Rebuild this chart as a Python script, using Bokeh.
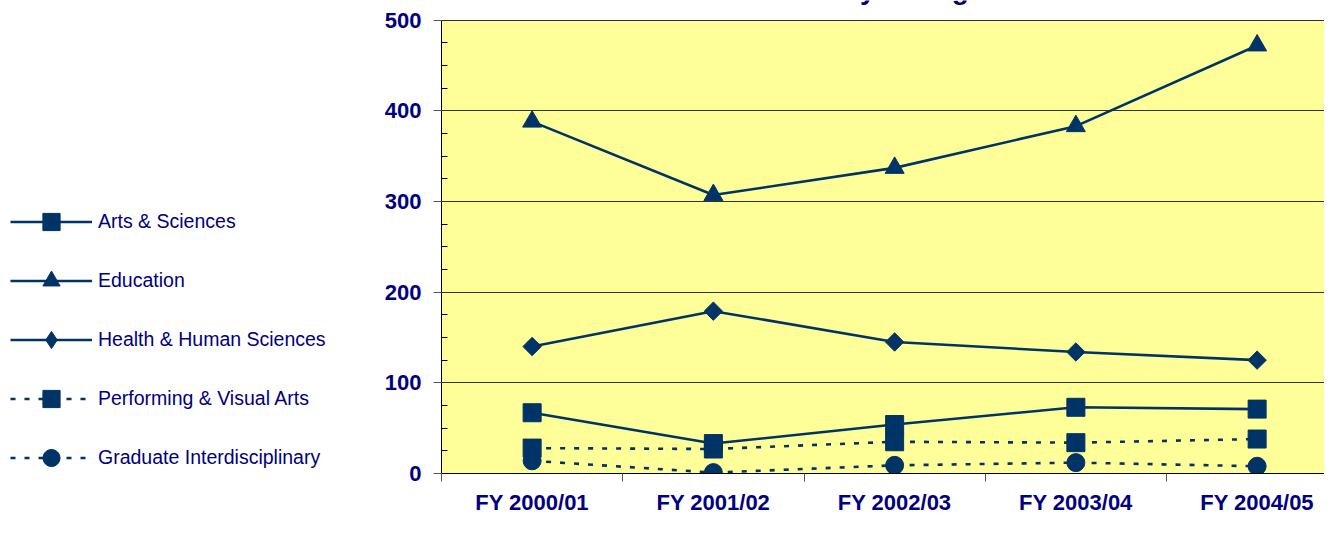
import math
from bokeh.plotting import figure
from bokeh.layouts import row
from bokeh.models import (FixedTicker, Legend, LegendItem, ColumnDataSource, Label,
                          BoxAnnotation)
from bokeh.embed import file_html
from bokeh.resources import INLINE

# ---- data ----
years = ["FY 2000/01", "FY 2001/02", "FY 2002/03", "FY 2003/04", "FY 2004/05"]
arts_sciences = [67, 33, 54, 73, 71]
education = [388, 307, 337, 383, 472]
health_human = [140, 179, 145, 134, 125]
performing_visual = [28, 27, 35, 34, 38]
graduate_interdisc = [14, 1, 9, 12, 8]
y_ticks = [0, 100, 200, 300, 400, 500]
grid_ticks = [100, 200, 300, 400, 500]
y_max = 500
title_text = "Enrollment by College"

NAVY = "#003366"
TEXT = "#000080"
YELLOW = "#FFFF99"
FONT = "Liberation Sans"

xs = list(range(len(years)))

W, H = 1324, 517
LEG_W = 380                 # width of the legend column
AX_LEFT = 441               # page x of the y axis
AX_BOTTOM = 484             # page y of the x axis
PX_PER_UNIT = 464 / 500     # vertical scale of the reference
CAT_PX = 181.25             # width of one category

main_w = W - LEG_W
border_left = AX_LEFT - LEG_W
frame_w = main_w - border_left
frame_h = AX_BOTTOM
bottom_border = H - AX_BOTTOM

p = figure(width=main_w, height=H, output_backend="svg", toolbar_location=None,
           x_range=(-0.5, -0.5 + frame_w / CAT_PX),
           y_range=(0, frame_h / PX_PER_UNIT),
           min_border_left=border_left, min_border_right=0, min_border_top=0,
           min_border_bottom=bottom_border)
p.background_fill_color = "white"
p.border_fill_color = "white"
p.outline_line_color = None

# yellow plot area, 0..500
p.add_layout(BoxAnnotation(bottom=0, top=y_max, fill_color=YELLOW, fill_alpha=1,
                           line_color=None, level="image"))

src = ColumnDataSource(dict(x=xs, arts=arts_sciences, edu=education, hhs=health_human,
                            pva=performing_visual, grad=graduate_interdisc))

series = [
    # label, column, plot marker, plot size, angle, legend marker, dash
    ("Arts & Sciences", "arts", "square", 18, 0.0, "square", "solid"),
    ("Education", "edu", "triangle", 19, 0.0, "triangle", "solid"),
    ("Health & Human Sciences", "hhs", "square", 13, math.pi / 4, "diamond", "solid"),
    ("Performing & Visual Arts", "pva", "square", 18, 0.0, "square", "5 9"),
    ("Graduate Interdisciplinary", "grad", "circle", 18, 0.0, "circle", "5 9"),
]

for label, col, marker, size, ang, lmarker, dash in series:
    p.line("x", col, source=src, line_color=NAVY, line_width=2.6, line_dash=dash)
    p.scatter("x", col, source=src, marker=marker, size=size, angle=ang,
              fill_color=NAVY, line_color=NAVY)

# title (only its lower edge shows at the top of the picture)
p.add_layout(Label(x=984 - AX_LEFT, y=AX_BOTTOM, x_units="screen", y_units="screen",
                   text=title_text, text_align="right", text_baseline="alphabetic",
                   text_font=FONT, text_font_style="bold",
                   text_font_size="28px", text_color=TEXT))

# x axis
p.xaxis.ticker = FixedTicker(ticks=xs, minor_ticks=[i - 0.5 for i in range(len(years) + 1)])
p.xaxis.major_label_overrides = {i: years[i] for i in xs}
p.xaxis.major_tick_out = 0
p.xaxis.major_tick_in = 0
p.xaxis.minor_tick_out = 8
p.xaxis.minor_tick_in = 0
p.xaxis.minor_tick_line_color = "#555555"
p.xaxis.axis_line_color = "black"
p.xaxis.major_label_standoff = 8
p.xaxis.major_label_text_font = FONT
p.xaxis.major_label_text_font_style = "bold"
p.xaxis.major_label_text_font_size = "22px"
p.xaxis.major_label_text_color = TEXT

# y axis
p.yaxis.bounds = (0, y_max)
p.yaxis.ticker = FixedTicker(ticks=y_ticks,
                             minor_ticks=[v for v in range(25, 500, 25) if v % 100])
p.yaxis.major_tick_out = 8
p.yaxis.major_tick_in = 0
p.yaxis.minor_tick_out = 0
p.yaxis.minor_tick_in = 6
p.yaxis.major_tick_line_color = "#555555"
p.yaxis.minor_tick_line_color = "black"
p.yaxis.axis_line_color = "black"
p.yaxis.major_label_standoff = 12
p.yaxis.major_label_text_font = FONT
p.yaxis.major_label_text_font_style = "bold"
p.yaxis.major_label_text_font_size = "22px"
p.yaxis.major_label_text_color = TEXT

# grid
p.xgrid.visible = False
p.ygrid.ticker = FixedTicker(ticks=grid_ticks)
p.ygrid.grid_line_color = "#333333"
p.ygrid.grid_line_width = 1

# ---- legend column (same data, drawn outside its empty view) ----
lg = figure(width=LEG_W, height=H, output_backend="svg", toolbar_location=None,
            x_range=(1000, 1001), y_range=(1000, 1001),
            x_axis_type=None, y_axis_type=None, min_border=0)
lg.outline_line_color = None
lg.grid.visible = False
lg.background_fill_color = "white"
lg.border_fill_color = "white"

items = []
for label, col, marker, size, ang, lmarker, dash in series:
    ln = lg.line("x", col, source=src, line_color=NAVY, line_width=2.6, line_dash=dash)
    sc = lg.scatter("x", col, source=src, marker=lmarker, size=size,
                    fill_color=NAVY, line_color=NAVY)
    items.append(LegendItem(label=label, renderers=[ln, sc]))

legend = Legend(items=items, location=(10, -5.5), orientation="vertical",
                glyph_width=82, glyph_height=43, label_standoff=6, spacing=16,
                padding=0, margin=0, border_line_color=None,
                background_fill_alpha=0, label_text_font=FONT,
                label_text_font_size="19.5px", label_text_color=TEXT,
                label_height=20)
lg.add_layout(legend)

layout = row(lg, p, spacing=0)
open("out.html", "w").write(file_html(layout, INLINE))
